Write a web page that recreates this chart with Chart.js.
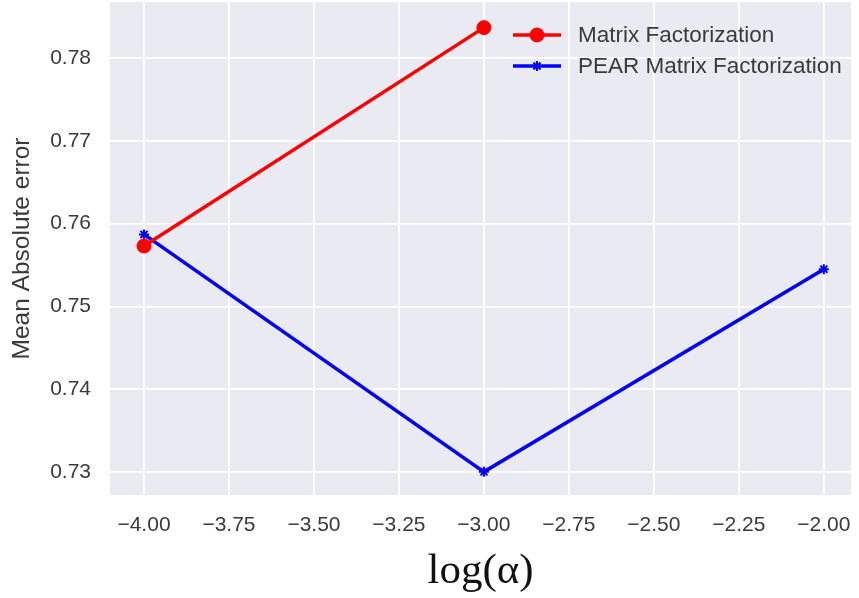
<!DOCTYPE html>
<html>
<head>
<meta charset="utf-8">
<script src="https://cdn.jsdelivr.net/npm/chart.js@4/dist/chart.umd.min.js"></script>
<style>
  html, body { margin: 0; padding: 0; background: #ffffff; }
  #wrap { width: 859px; height: 598px; }
</style>
</head>
<body>
<div id="wrap"><canvas id="c" width="859" height="598"></canvas></div>
<script>
// ---- data ----
const seriesLabels = ['Matrix Factorization', 'PEAR Matrix Factorization'];
const mfX = [-4.0, -3.0];
const mfY = [0.7573, 0.7837];
const pearX = [-4.0, -3.0, -2.0];
const pearY = [0.7587, 0.7300, 0.7545];
const xTickValues = [-4.00, -3.75, -3.50, -3.25, -3.00, -2.75, -2.50, -2.25, -2.00];
const yTickValues = [0.73, 0.74, 0.75, 0.76, 0.77, 0.78];
const xTitle = 'log(α)';
const yTitle = 'Mean Absolute error';

const toPoints = (xs, ys) => xs.map((x, i) => ({ x: x, y: ys[i] }));
const fmtMinus = s => s.replace('-', '\u2212');

const fixTop = {
  id: 'fixTop',
  afterLayout(chart) {
    const top = 2;
    const y = chart.scales.y;
    y.top = top;
    y.height = y.bottom - top;
    y.configure();
    chart.chartArea.top = top;
    chart.chartArea.height = chart.chartArea.bottom - top;
  }
};

const plotBg = {
  id: 'plotBg',
  beforeDraw(chart) {
    const { ctx, chartArea: a } = chart;
    ctx.save();
    ctx.fillStyle = '#EAEAF2';
    ctx.fillRect(a.left, a.top, a.right - a.left, a.bottom - a.top);
    ctx.restore();
  }
};

const innerLegend = {
  id: 'innerLegend',
  afterDatasetsDraw(chart) {
    const ctx = chart.ctx;
    const x0 = 513, x1 = 561, tx = 578;
    const rows = [35, 66];
    chart.data.datasets.forEach((ds, i) => {
      const y = rows[i];
      ctx.save();
      ctx.strokeStyle = ds.borderColor;
      ctx.lineWidth = ds.borderWidth;
      ctx.beginPath();
      ctx.moveTo(x0, y);
      ctx.lineTo(x1, y);
      ctx.stroke();
      ctx.fillStyle = ds.pointBackgroundColor;
      ctx.strokeStyle = ds.pointBorderColor;
      ctx.lineWidth = ds.pointBorderWidth;
      Chart.helpers.drawPoint(ctx, {
        pointStyle: ds.pointStyle, radius: ds.pointRadius, rotation: 0, borderWidth: ds.pointBorderWidth
      }, (x0 + x1) / 2, y);
      ctx.fillStyle = '#3a3a3a';
      ctx.font = '22.5px "Liberation Sans", Arial, sans-serif';
      ctx.textAlign = 'left';
      ctx.textBaseline = 'middle';
      ctx.fillText(ds.label, tx, y + 1);
      ctx.restore();
    });
  }
};

new Chart(document.getElementById('c'), {
  type: 'line',
  data: {
    datasets: [
      {
        label: seriesLabels[0],
        data: toPoints(mfX, mfY),
        borderColor: '#ff0000',
        backgroundColor: '#ff0000',
        pointBackgroundColor: '#ff0000',
        pointBorderColor: '#ff0000',
        pointBorderWidth: 1,
        borderWidth: 3.5,
        pointStyle: 'circle',
        pointRadius: 7,
        fill: false,
        tension: 0
      },
      {
        label: seriesLabels[1],
        data: toPoints(pearX, pearY),
        borderColor: '#0000ff',
        backgroundColor: '#0000ff',
        pointBackgroundColor: '#0000ff',
        pointBorderColor: '#0000ff',
        pointBorderWidth: 2,
        borderWidth: 3.5,
        pointStyle: 'star',
        pointRadius: 5,
        fill: false,
        tension: 0
      }
    ]
  },
  options: {
    responsive: false,
    animation: false,
    devicePixelRatio: 1,
    layout: { padding: { top: 2, left: 0, right: 0, bottom: 0 } },
    plugins: { legend: { display: false }, tooltip: { enabled: false } },
    scales: {
      x: {
        type: 'linear',
        min: -4.1,
        max: -1.92,
        afterBuildTicks: s => { s.ticks = xTickValues.map(v => ({ value: v })); },
        afterFit: s => { s.height = 103; s.paddingLeft = 0; s.paddingRight = 0; },
        border: { display: false },
        grid: { color: '#ffffff', lineWidth: 1.8, drawTicks: false },
        ticks: {
          padding: 18,
          color: '#3a3a3a',
          font: { family: '"Liberation Sans", Arial, sans-serif', size: 21 },
          callback: v => fmtMinus(Number(v).toFixed(2)),
          maxRotation: 0,
          autoSkip: false
        },
        title: {
          display: true,
          text: xTitle,
          color: '#111111',
          font: { family: '"Liberation Serif", "Times New Roman", serif', size: 43, lineHeight: 1 },
          padding: { top: 0, bottom: 5 }
        }
      },
      y: {
        type: 'linear',
        min: 0.7272,
        max: 0.7868,
        afterBuildTicks: s => { s.ticks = yTickValues.map(v => ({ value: v })); },
        afterFit: s => { s.width = 110; s.paddingTop = 0; s.paddingBottom = 0; },
        border: { display: false },
        grid: { color: '#ffffff', lineWidth: 1.8, drawTicks: false },
        ticks: {
          padding: 19,
          color: '#3a3a3a',
          font: { family: '"Liberation Sans", Arial, sans-serif', size: 21 },
          callback: v => Number(v).toFixed(2),
          autoSkip: false
        },
        title: {
          display: true,
          text: yTitle,
          color: '#3a3a3a',
          font: { family: '"Liberation Sans", Arial, sans-serif', size: 24.5, lineHeight: 1 },
          padding: { top: 10, bottom: 0 }
        }
      }
    }
  },
  plugins: [fixTop, plotBg, innerLegend]
});
</script>
</body>
</html>
